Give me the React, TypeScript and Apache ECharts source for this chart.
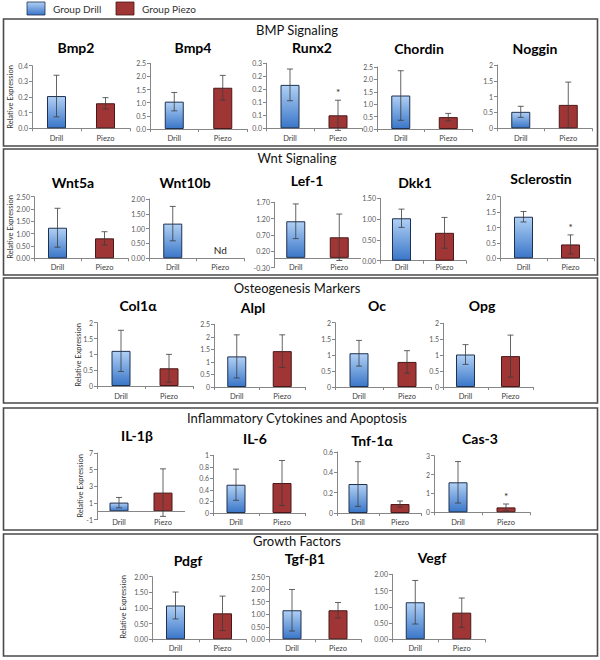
import React, { useEffect, useRef } from "react";
import * as echarts from "echarts";

// ---------- data ----------
const categories = ["Drill", "Piezo"];
const legendNames = ["Group Drill", "Group Piezo"];
const panelTitles = [
  "BMP Signaling",
  "Wnt Signaling",
  "Osteogenesis Markers",
  "Inflammatory Cytokines and Apoptosis",
  "Growth Factors",
];
const genes = [
  "Bmp2", "Bmp4", "Runx2", "Chordin", "Noggin",
  "Wnt5a", "Wnt10b", "Lef-1", "Dkk1", "Sclerostin",
  "Col1α", "Alpl", "Oc", "Opg",
  "IL-1β", "IL-6", "Tnf-1α", "Cas-3",
  "Pdgf", "Tgf-β1", "Vegf",
];
const genePanel = [0, 0, 0, 0, 0, 1, 1, 1, 1, 1, 2, 2, 2, 2, 3, 3, 3, 3, 4, 4, 4];
const drillMeans = [0.206, 1.04, 0.167, 1.35, 0.52, 1.24, 1.17, 1.12, 1.02, 1.35, 1.11, 1.22, 1.05, 1.02, 1.05, 0.49, 0.285, 1.59, 1.08, 1.16, 1.14];
const drillErrors = [0.133, 0.35, 0.061, 1.0, 0.175, 0.79, 0.58, 0.53, 0.22, 0.17, 0.65, 0.86, 0.4, 0.31, 0.62, 0.27, 0.22, 1.1, 0.43, 0.83, 0.67];
const piezoMeans: (number | null)[] = [0.16, 1.57, 0.05, 0.48, 0.74, 0.81, null, 0.63, 0.67, 0.45, 0.56, 1.43, 0.78, 0.97, 2.25, 0.52, 0.088, 0.26, 0.83, 1.16, 0.82];
const piezoErrors: (number | null)[] = [0.036, 0.47, 0.058, 0.15, 0.72, 0.27, null, 0.71, 0.37, 0.31, 0.44, 0.65, 0.35, 0.66, 2.85, 0.39, 0.03, 0.18, 0.55, 0.31, 0.45];
const significantPiezo = ["Runx2", "Sclerostin", "Cas-3"];
const notDetectedPiezo = ["Wnt10b"];
const notDetectedLabel = "Nd";
const significanceMark = "*";
// y axis ticks: min, max, step, decimals (-1 = general format)
const axisMin = [0, 0, 0, 0, 0, 0, 0, -0.3, 0, 0, 0, 0, 0, 0, -1, 0, 0, 0, 0, 0, 0];
const axisMax = [0.4, 2.5, 0.25, 2.5, 2, 2.5, 2, 1.7, 1.5, 2, 2, 2.5, 2, 2, 7, 1, 0.6, 3, 2, 2.5, 2];
const axisStep = [0.1, 0.5, 0.05, 0.5, 0.5, 0.5, 0.5, 0.5, 0.5, 0.5, 0.5, 0.5, 0.5, 0.5, 2, 0.2, 0.2, 1, 0.5, 0.5, 0.5];
const axisDecimals = [1, 1, 1, 1, -1, 2, 2, 2, 2, 1, -1, -1, -1, -1, -1, -1, -1, -1, 2, 2, 2];
const yAxisTitle = "Relative Expression";

// ---------- layout (pixels) ----------
// [gridLeft, gridRight, gridTop, gridBottom, titleX, titleY]
const chartBoxes = [
  [32, 130, 65.7, 128.3, 76, 47],
  [150, 247, 63.3, 129, 193, 47],
  [266, 362, 63.3, 128.3, 312, 47],
  [377, 472, 67, 129, 419, 48],
  [497, 592, 65, 128.3, 535, 48],
  [34, 128, 196.7, 258.3, 73, 182],
  [149, 244, 199, 258.3, 185, 182],
  [274, 361, 202.3, 267.7, 307, 180],
  [380, 466, 198.3, 260.7, 415, 182],
  [500, 594, 196.7, 258.3, 541, 178],
  [97, 193, 322.7, 386, 138, 305],
  [214, 305, 324.3, 387, 253, 307],
  [335, 431, 322.7, 387, 377, 305],
  [443, 533, 323.3, 387, 482, 305],
  [97, 185, 453, 519.7, 137, 435],
  [213, 305, 455.3, 513, 255, 438],
  [337, 421, 452, 513, 372, 440],
  [434, 530, 455.7, 512.3, 480, 438],
  [152, 246, 576.7, 639.3, 188, 560],
  [269, 361, 576.7, 639.3, 305, 558],
  [392, 485, 574.3, 639.3, 432, 557],
];
// [top, bottom, titleY, categoryLabelY, yNameX, yNameY]
const panelBoxes = [
  [19, 146, 30, 139, 10.5, 97],
  [149, 275, 158, 268, 10.5, 227],
  [278, 403, 288, 397, 78, 355],
  [408, 530, 418, 523, 80, 486],
  [534, 656, 541, 649, 123, 607],
];

const FONT = "Lato";
const AXIS_COLOR = "#868686";
const LABEL_COLOR = "#595959";

const drillFill = () =>
  new echarts.graphic.LinearGradient(0, 0, 0, 1, [
    { offset: 0, color: "#b0d0f5" },
    { offset: 1, color: "#3a76c8" },
  ]);
const PIEZO_FILL = "#a03535";
const DRILL_BORDER = "#1f3150";
const PIEZO_BORDER = "#4a1818";

function formatTick(v: number, dec: number): string {
  if (dec < 0) return String(Number(v.toFixed(6)));
  const p = Math.pow(10, dec);
  return (Math.round(v * p + 1e-9) / p).toFixed(dec);
}

function buildOption() {
  const grids: any[] = [];
  const xAxes: any[] = [];
  const yAxes: any[] = [];
  const series: any[] = [];
  const graphics: any[] = [];

  // legend
  const legendFills = [drillFill(), PIEZO_FILL];
  const legendBorders = [DRILL_BORDER, PIEZO_BORDER];
  const legendX = [27, 116];
  legendNames.forEach((name, k) => {
    graphics.push({
      type: "rect",
      shape: { x: legendX[k], y: 2, width: 18, height: 13 },
      style: { fill: legendFills[k], stroke: legendBorders[k], lineWidth: 0.8 },
    });
    graphics.push({
      type: "text",
      x: legendX[k] + 26,
      y: 8.5,
      style: {
        text: name,
        fontSize: 10,
        fontFamily: FONT,
        fill: "#333",
        align: "left",
        verticalAlign: "middle",
      },
    });
  });

  // panels
  panelTitles.forEach((t, p) => {
    const [top, bottom, ty, , nx, ny] = panelBoxes[p];
    graphics.push({
      type: "rect",
      shape: { x: 3.5, y: top, width: 594, height: bottom - top },
      style: { fill: "none", stroke: "#4a4a4a", lineWidth: 1.6 },
    });
    graphics.push({
      type: "text",
      x: 297,
      y: ty,
      style: {
        text: t,
        fontSize: 13,
        fontFamily: FONT,
        fill: "#111",
        align: "center",
        verticalAlign: "middle",
      },
    });
    graphics.push({
      type: "text",
      x: nx,
      y: ny,
      rotation: Math.PI / 2,
      style: {
        text: yAxisTitle,
        fontSize: 7.5,
        fontFamily: FONT,
        fill: "#333",
        align: "center",
        verticalAlign: "middle",
      },
    });
  });

  genes.forEach((gene, i) => {
    const [gl, gr, gt, gb, tx, ty] = chartBoxes[i];
    const panel = genePanel[i];
    const labelY = panelBoxes[panel][3];
    const hasNegative = axisMin[i] < 0;

    graphics.push({
      type: "text",
      x: tx,
      y: ty,
      style: {
        text: gene,
        fontSize: 14,
        fontWeight: "bold",
        fontFamily: FONT,
        fill: "#000",
        align: "center",
        verticalAlign: "middle",
      },
    });

    grids.push({
      left: gl,
      top: gt,
      width: gr - gl,
      height: gb - gt,
      containLabel: false,
      outerBoundsMode: "none",
    });
    xAxes.push({
      type: "category",
      gridIndex: i,
      data: categories,
      boundaryGap: true,
      axisLine: { show: !hasNegative, lineStyle: { color: AXIS_COLOR, width: 1 } },
      axisTick: { show: !hasNegative, length: 3, lineStyle: { color: AXIS_COLOR } },
      axisLabel: {
        fontSize: 7.5,
        fontFamily: FONT,
        color: "#404040",
        margin: labelY - 5 - gb,
      },
      splitLine: { show: false },
    });
    const dec = axisDecimals[i];
    yAxes.push({
      type: "value",
      gridIndex: i,
      min: axisMin[i],
      max: axisMax[i],
      interval: axisStep[i],
      axisLine: { show: true, onZero: false, lineStyle: { color: AXIS_COLOR, width: 1 } },
      axisTick: { show: true, length: 3, lineStyle: { color: AXIS_COLOR } },
      axisLabel: {
        fontSize: 7,
        fontFamily: FONT,
        color: LABEL_COLOR,
        margin: 4,
        formatter: (v: number) => formatTick(v, dec),
      },
      splitLine: { show: false },
    });

    const pm = piezoMeans[i];
    const barSeries: any = {
      type: "bar",
      xAxisIndex: i,
      yAxisIndex: i,
      barWidth: 19,
      data: [
        {
          value: drillMeans[i],
          itemStyle: { color: drillFill(), borderColor: DRILL_BORDER, borderWidth: 1 },
        },
        pm === null
          ? "-"
          : {
              value: pm,
              itemStyle: { color: PIEZO_FILL, borderColor: PIEZO_BORDER, borderWidth: 1 },
            },
      ],
    };
    if (hasNegative) {
      barSeries.markLine = {
        silent: true,
        symbol: "none",
        label: { show: false },
        lineStyle: { color: AXIS_COLOR, width: 1, type: "solid" },
        data: [{ yAxis: 0 }],
      };
    }
    series.push(barSeries);

    const errData: any[] = [];
    errData.push([0, drillMeans[i] - drillErrors[i], drillMeans[i] + drillErrors[i], 0]);
    const pe = piezoErrors[i];
    if (pm !== null && pe !== null) {
      errData.push([1, pm - pe, pm + pe, significantPiezo.includes(gene) ? 1 : 0]);
    } else if (notDetectedPiezo.includes(gene)) {
      errData.push([1, 0, 0, 2]);
    }
    series.push({
      type: "custom",
      xAxisIndex: i,
      yAxisIndex: i,
      z: 10,
      clip: false,
      renderItem: (params: any, api: any) => {
        const c = api.value(0);
        const lo = api.value(1);
        const hi = api.value(2);
        const flag = api.value(3);
        const pLo = api.coord([c, lo]);
        const pHi = api.coord([c, hi]);
        const x = pLo[0];
        if (flag === 2) {
          return {
            type: "text",
            x,
            y: pLo[1] - 8,
            style: {
              text: notDetectedLabel,
              fontSize: 10,
              fontFamily: FONT,
              fill: "#222",
              align: "center",
              verticalAlign: "middle",
            },
          };
        }
        const st = { stroke: "#3c3c3c", lineWidth: 0.8 };
        const children: any[] = [
          { type: "line", shape: { x1: x, y1: pLo[1], x2: x, y2: pHi[1] }, style: st },
          { type: "line", shape: { x1: x - 3, y1: pHi[1], x2: x + 3, y2: pHi[1] }, style: st },
          { type: "line", shape: { x1: x - 3, y1: pLo[1], x2: x + 3, y2: pLo[1] }, style: st },
        ];
        if (flag === 1) {
          children.push({
            type: "text",
            x,
            y: pHi[1] - 8,
            style: {
              text: significanceMark,
              fontSize: 10,
              fontFamily: FONT,
              fill: "#222",
              align: "center",
              verticalAlign: "middle",
            },
          });
        }
        return { type: "group", children };
      },
      data: errData,
    });
  });

  return {
    animation: false,
    backgroundColor: "#ffffff",
    textStyle: { fontFamily: FONT },
    grid: grids,
    xAxis: xAxes,
    yAxis: yAxes,
    series,
    graphic: { elements: graphics },
  };
}

export default function App() {
  const ref = useRef<HTMLDivElement>(null);
  useEffect(() => {
    if (!ref.current) return;
    const chart = echarts.init(ref.current, undefined, { renderer: "svg" });
    chart.setOption(buildOption() as any);
    return () => chart.dispose();
  }, []);
  return (
    <div
      ref={ref}
      style={{ position: "absolute", left: 0, top: 0, width: 600, height: 660, background: "#fff" }}
    />
  );
}
